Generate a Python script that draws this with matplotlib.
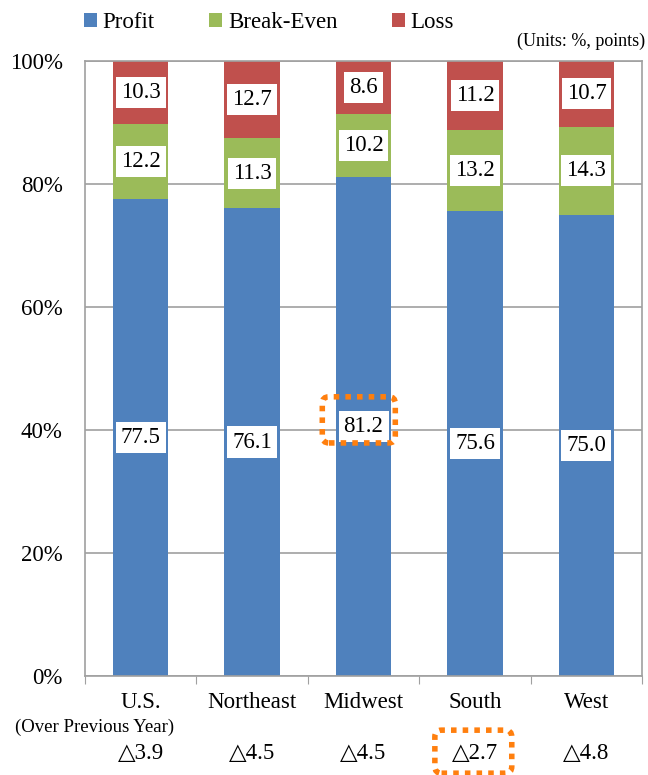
import numpy as np
import matplotlib
matplotlib.use("Agg")
from matplotlib import pyplot as plt
from matplotlib.patches import FancyBboxPatch
from matplotlib.font_manager import FontProperties

plt.rcParams['font.family'] = ['Liberation Serif', 'DejaVu Serif']

regions = ["U.S.", "Northeast", "Midwest", "South", "West"]
profit = [77.5, 76.1, 81.2, 75.6, 75.0]
break_even = [12.2, 11.3, 10.2, 13.2, 14.3]
loss = [10.3, 12.7, 8.6, 11.2, 10.7]
change = ["\u25b33.9", "\u25b34.5", "\u25b34.5", "\u25b32.7", "\u25b34.8"]

c_profit = "#4F81BD"
c_be = "#9BBB59"
c_loss = "#C0504D"
grid_c = "#A0A0A0"
fs = 16.5

fig = plt.figure(figsize=(6.48, 7.75), dpi=100)
ax = fig.add_axes([0.131, 0.1277, 0.860, 0.7936])

x = np.arange(len(regions))
w = 0.5
profit = np.array(profit)
break_even = np.array(break_even)
loss = np.array(loss)

ax.bar(x, profit, w, color=c_profit, label="Profit", zorder=2)
ax.bar(x, break_even, w, bottom=profit, color=c_be, label="Break-Even", zorder=2)
ax.bar(x, loss, w, bottom=profit + break_even, color=c_loss, label="Loss", zorder=2)

box = dict(boxstyle="square,pad=0.22", fc="white", ec="none")
for i in range(len(regions)):
    ax.text(x[i], profit[i] / 2, f"{profit[i]:.1f}", ha="center", va="center",
            fontsize=fs, bbox=box, zorder=4)
    ax.text(x[i], profit[i] + break_even[i] / 2, f"{break_even[i]:.1f}",
            ha="center", va="center", fontsize=fs, bbox=box, zorder=4)
    top = min(100, profit[i] + break_even[i] + loss[i])
    mid = (profit[i] + break_even[i] + top) / 2
    ax.text(x[i], mid, f"{loss[i]:.1f}", ha="center", va="center",
            fontsize=fs, bbox=box, zorder=4)

ax.set_xlim(-0.5, len(regions) - 0.5)
ax.set_ylim(0, 100)
ax.set_yticks(np.arange(0, 101, 20))
ax.set_yticklabels([f"{v}%" for v in range(0, 101, 20)], fontsize=fs)
ax.tick_params(axis="y", length=0, pad=16)
ax.set_xticks(np.arange(-0.5, len(regions), 1))
ax.set_xticklabels([])
ax.tick_params(axis="x", length=6, color=grid_c, direction="out")
ax.yaxis.grid(True, color=grid_c, linewidth=1.2, zorder=0)
ax.set_axisbelow(True)
for s in ax.spines.values():
    s.set_color(grid_c)
    s.set_linewidth(1.2)

# region names and change over previous year under the axis
for i in range(len(regions)):
    ax.text(x[i], -2.6, regions[i], ha="center", va="top", fontsize=fs,
            clip_on=False)
    ax.text(x[i], -10.9, change[i], ha="center", va="top", fontsize=fs,
            clip_on=False)
ax.text(-0.41, -7.0, "(Over Previous Year)", ha="center", va="top", fontsize=13.5,
        clip_on=False)

# dotted highlights
hl1 = FancyBboxPatch((1.63, 37.9), 0.655, 7.5, boxstyle="round,pad=0,rounding_size=0.06",
                     fill=False, ec="#FF7F0E", lw=4, ls=(0, (1, 1.1)), zorder=5,
                     mutation_aspect=18)
ax.add_patch(hl1)
hl2 = FancyBboxPatch((2.64, -15.8), 0.69, 7.0, boxstyle="round,pad=0,rounding_size=0.06",
                     fill=False, ec="#FF7F0E", lw=4, ls=(0, (1, 1.1)), zorder=5,
                     mutation_aspect=18, clip_on=False)
ax.add_patch(hl2)

ax.legend(loc="lower left", bbox_to_anchor=(-0.018, 1.031), ncol=3, frameon=False,
          prop=FontProperties(family=['Liberation Serif', 'DejaVu Serif'], size=fs),
          handlelength=0.55, handleheight=0.55, handletextpad=0.25,
          columnspacing=2.4, borderaxespad=0)
fig.text(0.996, 0.947, "(Units: %, points)", ha="right", va="center", fontsize=13)

fig.savefig("out.png", dpi=100)
